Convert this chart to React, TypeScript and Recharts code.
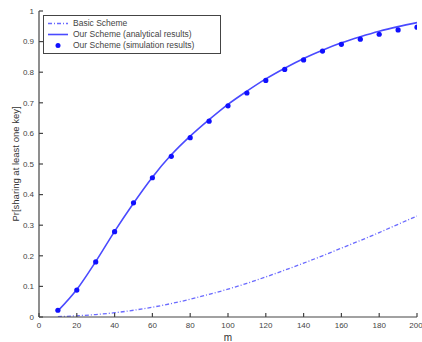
import React from 'react';
import { ComposedChart, Line, XAxis, YAxis } from 'recharts';

const mValues = [10, 20, 30, 40, 50, 60, 70, 80, 90, 100, 110, 120, 130, 140, 150, 160, 170, 180, 190, 200];
const basicScheme = [0.001, 0.004, 0.008, 0.014, 0.022, 0.032, 0.044, 0.058, 0.074, 0.091, 0.11, 0.131, 0.153, 0.176, 0.2, 0.225, 0.25, 0.276, 0.303, 0.33];
const ourAnalytical = [0.02, 0.09, 0.181, 0.28, 0.372, 0.457, 0.53, 0.591, 0.645, 0.695, 0.738, 0.778, 0.813, 0.845, 0.872, 0.896, 0.916, 0.934, 0.949, 0.962];
const ourSimulation = [0.022, 0.088, 0.18, 0.279, 0.373, 0.455, 0.525, 0.586, 0.64, 0.69, 0.732, 0.773, 0.809, 0.84, 0.869, 0.891, 0.908, 0.924, 0.938, 0.947];
const xTicks = [0, 20, 40, 60, 80, 100, 120, 140, 160, 180, 200];
const yTicks = [0, 0.1, 0.2, 0.3, 0.4, 0.5, 0.6, 0.7, 0.8, 0.9, 1];
const seriesNames = ['Basic Scheme', 'Our Scheme (analytical results)', 'Our Scheme (simulation results)'];

const data = mValues.map((m, i) => ({
  m,
  basic: basicScheme[i],
  analytical: ourAnalytical[i],
  simulation: ourSimulation[i],
}));

const FONT = 'Liberation Sans, Arial, sans-serif';
const AXIS = '#444';
const TICK_TEXT = '#444';

const LegendBox = () => (
  <div
    style={{
      position: 'absolute',
      left: 43,
      top: 15,
      border: '1px solid #444',
      background: '#fff',
      padding: '2px 4px 2px 3px',
      fontFamily: FONT,
      fontSize: 8.5,
      color: '#444',
      lineHeight: '11px',
      width: 178,
      boxSizing: 'border-box',
    }}
  >
    {seriesNames.map((name, i) => (
      <div key={name} style={{ display: 'flex', alignItems: 'center', height: 11 }}>
        <svg width={22} height={11} style={{ marginRight: 4 }}>
          {i === 0 && (
            <line x1={1} y1={5.5} x2={21} y2={5.5} stroke="#6a6aff" strokeWidth={1.3} strokeDasharray="4 2 1 2" />
          )}
          {i === 1 && <line x1={1} y1={5.5} x2={21} y2={5.5} stroke="#4a4aff" strokeWidth={1.6} />}
          {i === 2 && <circle cx={11} cy={5.5} r={2.5} fill="#1010ff" />}
        </svg>
        <span>{name}</span>
      </div>
    ))}
  </div>
);

export default function App() {
  return (
    <div style={{ position: 'absolute', left: 0, top: 0, width: 422, height: 342, background: '#fff' }}>
      <ComposedChart width={422} height={342} data={data} margin={{ top: 11, right: 5, left: 0, bottom: 0 }}>
        <XAxis
          xAxisId="b"
          dataKey="m"
          type="number"
          domain={[0, 200]}
          ticks={xTicks}
          orientation="bottom"
          height={25}
          stroke={AXIS}
          strokeWidth={1.2}
          tickSize={-4}
          tickMargin={9}
          tick={{ fontSize: 8, fill: TICK_TEXT, fontFamily: FONT }}
          label={{ value: 'm', position: 'insideBottom', offset: 1, fontSize: 10, fill: '#333', fontFamily: FONT }}
          allowDataOverflow
        />
        <XAxis
          xAxisId="t"
          dataKey="m"
          type="number"
          domain={[0, 200]}
          ticks={xTicks}
          orientation="top"
          height={0}
          stroke={AXIS}
          strokeWidth={1.2}
          tickSize={-4}
          tickFormatter={() => ''}
          allowDataOverflow
        />
        <YAxis
          yAxisId="l"
          type="number"
          domain={[0, 1]}
          ticks={yTicks}
          width={39}
          stroke={AXIS}
          strokeWidth={1.2}
          tickSize={-4}
          tickMargin={9}
          tick={{ fontSize: 8, fill: TICK_TEXT, fontFamily: FONT }}
          label={{
            value: 'Pr[sharing at least one key]',
            angle: -90,
            position: 'insideLeft',
            offset: 16,
            style: { textAnchor: 'middle' },
            fontSize: 9.5,
            fill: '#333',
            fontFamily: FONT,
          }}
          allowDataOverflow
        />
        <YAxis
          yAxisId="r"
          orientation="right"
          type="number"
          domain={[0, 1]}
          ticks={yTicks}
          width={0}
          stroke={AXIS}
          strokeWidth={1.2}
          tickSize={-4}
          tickFormatter={() => ''}
          allowDataOverflow
        />
        <Line
          xAxisId="b"
          yAxisId="l"
          dataKey="basic"
          type="monotone"
          stroke="#6a6aff"
          strokeWidth={1.3}
          strokeDasharray="4 2 1 2"
          dot={false}
          isAnimationActive={false}
        />
        <Line
          xAxisId="b"
          yAxisId="l"
          dataKey="analytical"
          type="monotone"
          stroke="#4a4aff"
          strokeWidth={1.6}
          dot={false}
          isAnimationActive={false}
        />
        <Line
          xAxisId="b"
          yAxisId="l"
          dataKey="simulation"
          stroke="none"
          strokeWidth={0}
          dot={{ r: 2.6, fill: '#1010ff', stroke: 'none' }}
          activeDot={false}
          isAnimationActive={false}
        />
      </ComposedChart>
      <LegendBox />
    </div>
  );
}
